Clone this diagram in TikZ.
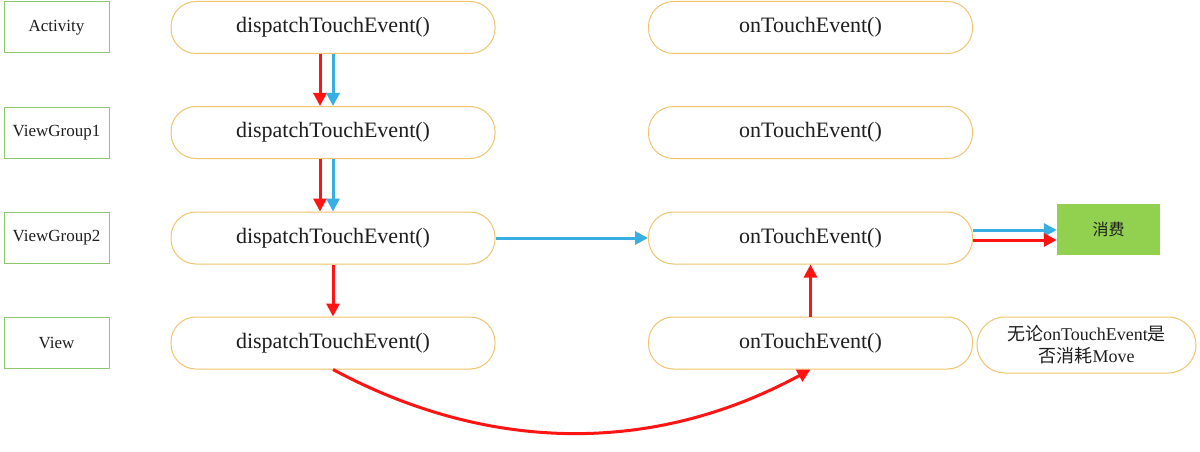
\documentclass[tikz,border=0pt]{standalone}
\usepackage{fontspec}
\setmainfont{Liberation Serif}
\newfontfamily\cjk{Noto Sans CJK SC}
\usetikzlibrary{arrows.meta}
\definecolor{stadborder}{RGB}{240,196,110}
\definecolor{labborder}{RGB}{140,200,110}
\definecolor{consfill}{RGB}{146,208,80}
\definecolor{myblue}{RGB}{56,174,226}
\definecolor{myred}{RGB}{255,20,20}
\definecolor{txt}{RGB}{30,30,30}
\tikzset{
  labbox/.style={draw=labborder, line width=1pt, minimum width=105pt, minimum height=51pt, font=\fontsize{17}{20}\selectfont, text=txt, inner sep=0pt},
  stad/.style={draw=stadborder, line width=1pt, rounded corners=25pt, minimum width=324pt, minimum height=52pt, font=\fontsize{22}{26}\selectfont, text=txt, inner sep=0pt},
  redarr/.style={draw=myred, line width=3pt, -{Triangle[length=13pt,width=13pt]}},
  bluearr/.style={draw=myblue, line width=3pt, -{Triangle[length=13pt,width=13pt]}},
}
\begin{document}
\begin{tikzpicture}[x=1pt,y=-1pt]
\useasboundingbox[fill=white] (0,0) rectangle (1200,452);
% labels
\node[labbox] (l1) at (56.5,27.5) {Activity};
\node[labbox] (l2) at (56.5,132.5) {ViewGroup1};
\node[labbox] (l3) at (56.5,237.5) {ViewGroup2};
\node[labbox] (l4) at (56.5,342.5) {View};
% dispatch
\node[stad] (d1) at (333,27.5) {dispatchTouchEvent()};
\node[stad] (d2) at (333,132.5) {dispatchTouchEvent()};
\node[stad] (d3) at (333,238) {dispatchTouchEvent()};
\node[stad] (d4) at (333,343) {dispatchTouchEvent()};
% onTouchEvent
\node[stad] (o1) at (810.5,27.5) {onTouchEvent()};
\node[stad] (o2) at (810.5,132.5) {onTouchEvent()};
\node[stad] (o3) at (810.5,238) {onTouchEvent()};
\node[stad] (o4) at (810.5,343) {onTouchEvent()};
% consume
\node[fill=consfill, minimum width=103pt, minimum height=51pt, inner sep=0pt, font=\cjk\fontsize{16}{19}\selectfont, text=txt] (c) at (1108.5,229.5) {消费};
% note
\node[draw=stadborder, line width=1pt, rounded corners=28pt, minimum width=219pt, minimum height=56pt, inner sep=0pt, align=center, font=\fontsize{18}{22}\selectfont, text=txt] (n) at (1086.5,345) {{\cjk 无论}onTouchEvent{\cjk 是}\\{\cjk 否消耗}Move};
% helper coordinates
\coordinate (bs) at ([yshift=8pt]o3.east);
\coordinate (rs) at ([yshift=-2pt]o3.east);
% arrows
\draw[redarr] ([xshift=-13pt]d1.south) -- ([xshift=-13pt]d2.north);
\draw[bluearr] (d1.south) -- (d2.north);
\draw[redarr] ([xshift=-13pt]d2.south) -- ([xshift=-13pt]d3.north);
\draw[bluearr] (d2.south) -- (d3.north);
\draw[redarr] (d3.south) -- (d4.north);
\draw[bluearr] (d3.east) -- (o3.west);
\draw[redarr] (o4.north) -- (o3.south);
\draw[bluearr] (bs) -- (bs -| c.west);
\draw[redarr] (rs) -- (rs -| c.west);
\draw[redarr] (d4.south) .. controls (490,454) and (655,454) .. (o4.south);
\end{tikzpicture}
\end{document}
